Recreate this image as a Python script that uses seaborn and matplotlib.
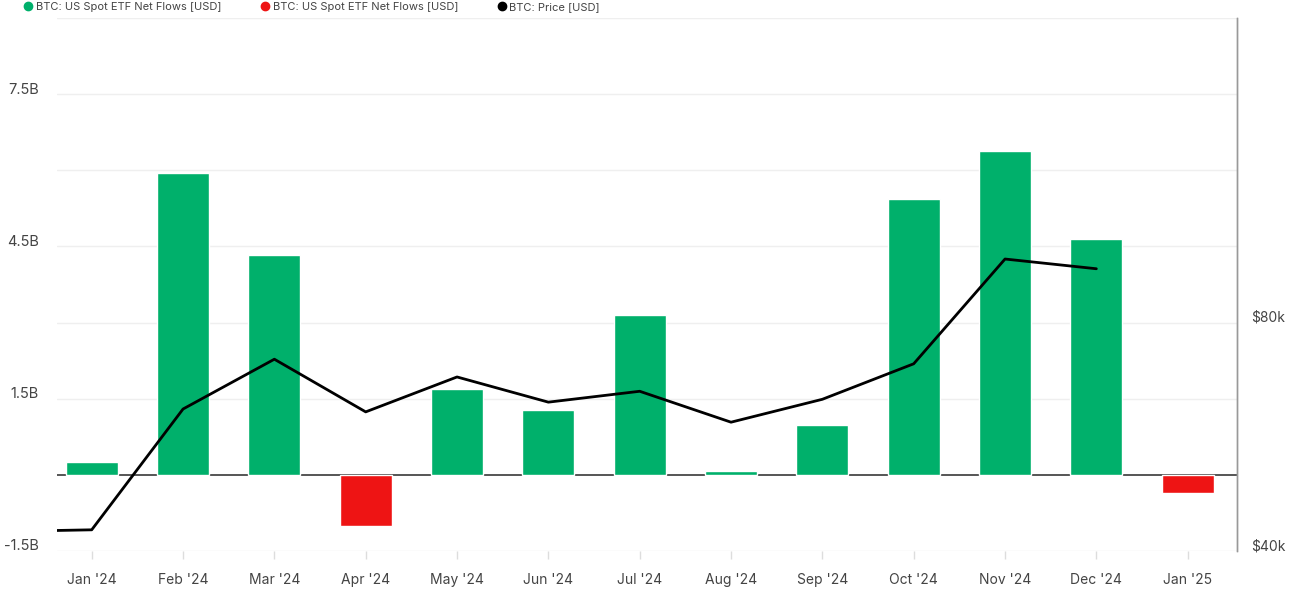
import numpy as np
import pandas as pd
import matplotlib
matplotlib.use("Agg")
import matplotlib.pyplot as plt
import matplotlib.transforms as mtransforms
from matplotlib.lines import Line2D
import seaborn as sns

# ---- data ----
months = ["Jan '24", "Feb '24", "Mar '24", "Apr '24", "May '24", "Jun '24", "Jul '24",
          "Aug '24", "Sep '24", "Oct '24", "Nov '24", "Dec '24", "Jan '25"]
net_flows_b = [0.26, 5.94, 4.34, -1.01, 1.70, 1.28, 3.14, 0.07, 0.99, 5.43, 6.38, 4.64, -0.36]
price_months = ["Dec '23", "Jan '24", "Feb '24", "Mar '24", "Apr '24", "May '24", "Jun '24",
                "Jul '24", "Aug '24", "Sep '24", "Oct '24", "Nov '24", "Dec '24"]
price_usd = [43400, 43700, 64800, 73500, 64300, 70400, 66000, 67900, 62500, 66500, 72700, 91000, 89300]
left_ticks = [-1.5, 1.5, 4.5, 7.5]
left_tick_labels = ["-1.5B", "1.5B", "4.5B", "7.5B"]
left_minor = [3.0, 6.0, 9.0]
right_ticks = [40000, 80000]
right_tick_labels = ["$40k", "$80k"]
legend_labels = ["BTC: US Spot ETF Net Flows [USD]", "BTC: US Spot ETF Net Flows [USD]", "BTC: Price [USD]"]

GREEN = "#00B06B"
RED = "#EE1414"
TEXT = "#444444"

sns.set_theme(style="white")
plt.rcParams['font.family'] = ['Inter', 'DejaVu Sans']

df = pd.DataFrame({"month": months, "flow": net_flows_b})
df["sign"] = np.where(df["flow"] >= 0, "pos", "neg")

fig = plt.figure(figsize=(13.05, 5.94), dpi=100)
ax = fig.add_axes([57/1305, 1-551/594, (1237-57)/1305, (551-18)/594])

sns.barplot(data=df, x="month", y="flow", hue="sign", palette={"pos": GREEN, "neg": RED},
            dodge=False, width=0.57, legend=False, ax=ax, saturation=1, zorder=3)

ax.set_xlim(-0.38, len(months) - 1 + 0.54)
ax.set_ylim(-1.5, 9.0)
ax.set_yticks(left_ticks)
ax.set_yticklabels(left_tick_labels)
ax.set_yticks(left_minor, minor=True)
ax.yaxis.grid(True, which="both", color="#EFEFEF", lw=1)
ax.set_axisbelow(True)
ax.axhline(0, color="#555555", lw=1.4, zorder=2.5)
ax.set_xlabel("")
ax.set_ylabel("")
for s in ["left", "top", "bottom"]:
    ax.spines[s].set_visible(False)
ax.spines["right"].set_visible(True)
ax.spines["right"].set_color("#999999")
ax.spines["right"].set_linewidth(1)
ax.tick_params(axis="y", which="both", length=0, labelsize=10.5, labelcolor=TEXT, pad=13)
ax.tick_params(axis="x", length=6, width=1, color="#DDDDDD", labelsize=10, labelcolor=TEXT, pad=10, bottom=True)

ax2 = ax.twinx()
price_pos = np.arange(len(price_months)) - 1
sns.lineplot(x=price_pos, y=price_usd, ax=ax2, color="black", lw=2, zorder=5)
ax2.set_ylim(40000, 40000 + (551-18)/229*40000)
ax2.set_yticks(right_ticks)
ax2.set_yticklabels(right_tick_labels)
ax2.set_xlim(ax.get_xlim())
ax2.grid(False)
for s in ["left", "top", "bottom"]:
    ax2.spines[s].set_visible(False)
ax2.spines["right"].set_color("#999999")
ax2.spines["right"].set_linewidth(1)
ax2.tick_params(axis="y", length=0, labelsize=10, labelcolor=TEXT, pad=10)
ax2.set_ylabel("")

# shift y tick labels slightly above their gridlines
off = mtransforms.ScaledTranslation(0, 6/100, fig.dpi_scale_trans)
for lab in ax.get_yticklabels() + ax2.get_yticklabels():
    lab.set_transform(lab.get_transform() + off)

handles = [Line2D([], [], marker="o", ls="", color=GREEN, markersize=6),
           Line2D([], [], marker="o", ls="", color=RED, markersize=6),
           Line2D([], [], marker="o", ls="", color="black", markersize=6)]
fig.legend(handles, legend_labels, loc="upper left", bbox_to_anchor=(0.009, 1.014), ncol=3,
           frameon=False, fontsize=8, handletextpad=0.1, columnspacing=3.3, labelcolor=TEXT,
           handlelength=1.2)

fig.savefig("out.png", dpi=100, facecolor="white")
